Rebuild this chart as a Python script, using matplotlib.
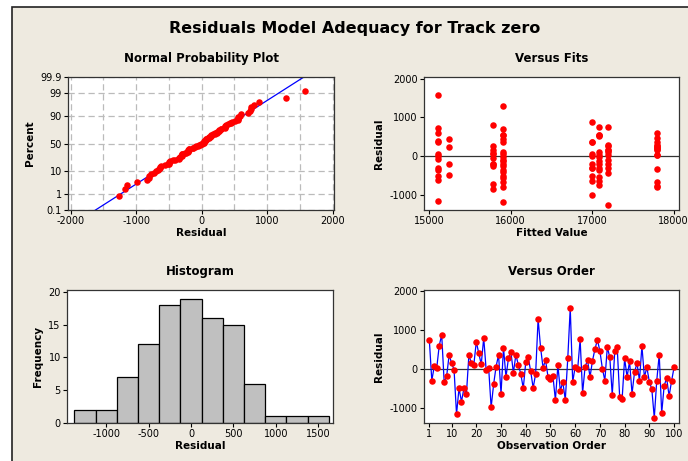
import numpy as np
import matplotlib
matplotlib.use("Agg")
import matplotlib.pyplot as plt
from matplotlib.patches import Rectangle
from statistics import NormalDist

residuals = [740, -300, 70, 30, 600, 880, -340, -190, 360, 150,
             -20, -1170, -500, -840, -500, -650, 360, 150, 110, 700,
             400, 120, 800, -40, 20, -990, -400, 60, 360, -640,
             550, -210, 270, 440, -100, 360, 110, -130, -500, 170,
             300, -60, -490, -130, 1290, 550, 30, 230, -200, -260,
             -190, -800, 90, -560, -340, -800, 270, 1570, -340, 60,
             -10, 760, -620, 50, 230, -210, 210, 510, 750, 460,
             10, -300, 560, 300, -670, 450, 560, -730, -770, 270,
             -210, 200, -640, -90, 150, -300, 590, -210, 40, -330,
             -520, -1260, -300, 370, -1140, -430, -240, -700, -310, 40]

# Valores ajustados de cada observacion
fitted = [15110, 15110, 17000, 17090, 15110, 17000, 15110, 15240, 15110, 15780,
          17090, 15910, 15110, 15780, 17000, 17800, 17800, 17200, 17200, 15910,
          15110, 15910, 15780, 15780, 17000, 17000, 15910, 15110, 17000, 17000,
          15910, 15780, 15780, 15240, 15910, 17000, 17090, 15910, 15910, 17200,
          17200, 15110, 15240, 17090, 15910, 15910, 17200, 15240, 15780, 15780,
          17090, 17800, 15780, 15910, 17090, 15910, 17200, 15110, 15910, 15910,
          15910, 17090, 15110, 15780, 17800, 15910, 17800, 17090, 17200, 17800,
          15110, 17000, 17090, 17800, 15910, 15910, 17090, 17090, 17800, 17800,
          17000, 17800, 17090, 17200, 17800, 17000, 17800, 17200, 17800, 17800,
          17090, 17200, 17090, 15910, 15110, 17200, 15910, 15780, 17200, 17800]

# Histograma: centros de clase y frecuencias
hist_centers = [-1250, -1000, -750, -500, -250, 0, 250, 500, 750, 1000, 1250, 1500]
hist_counts = [2, 2, 7, 12, 18, 19, 16, 15, 6, 1, 1, 1]

prob_ticks = [0.1, 1, 10, 50, 90, 99, 99.9]
prob_labels = ["0.1", "1", "10", "50", "90", "99", "99.9"]

plt.rcParams['font.family'] = ['DejaVu Sans']
plt.rcParams['font.size'] = 7
plt.rcParams['axes.unicode_minus'] = False

W, H = 688, 461
fig = plt.figure(figsize=(W / 100, H / 100), dpi=100, facecolor='white')
bg = '#EEEAE0'
fig.patches.append(Rectangle((12 / W, -0.01), 1.0, (H - 7) / H + 0.01,
                             transform=fig.transFigure, facecolor=bg,
                             edgecolor='#222222', linewidth=1.2, zorder=-10))

def make_ax(x0, x1, y0, y1):
    ax = fig.add_axes([x0 / W, 1 - y1 / H, (x1 - x0) / W, (y1 - y0) / H])
    ax.set_facecolor('white')
    for s in ax.spines.values():
        s.set_color('#333333')
        s.set_linewidth(0.9)
    ax.tick_params(length=3, width=0.8, pad=1.5, labelsize=7)
    return ax

fig.text(0.515, 1 - 28 / H, "Residuals Model Adequacy for Track zero",
         ha='center', va='center', fontsize=11.5, fontweight='bold')

red = '#FF0000'
nd = NormalDist()
res = np.array(residuals, dtype=float)
n = len(res)

# Normal Probability Plot
ax1 = make_ax(68, 334, 77, 210)
srt = np.sort(res)
pct = [(i + 1 - 0.3) / (n + 0.4) for i in range(n)]
zq = [nd.inv_cdf(p) for p in pct]
mu, sd = res.mean(), res.std(ddof=1)
zline = np.array([nd.inv_cdf(0.0005), nd.inv_cdf(0.9995)])
ax1.plot(mu + sd * zline, zline, color='#0000FF', lw=0.9, zorder=2)
ax1.scatter(srt, zq, s=22, color=red, zorder=3, linewidths=0)
zt = [nd.inv_cdf(p / 100) for p in prob_ticks]
ax1.set_yticks(zt)
ax1.set_yticklabels(prob_labels)
ax1.set_ylim(zt[0], zt[-1])
ax1.set_xlim(-2040, 2020)
ax1.set_xticks([-2000, -1000, 0, 1000, 2000])
ax1.set_xticks([-1500, -500, 500, 1500], minor=True)
ax1.tick_params(axis='x', which='minor', length=0)
ax1.grid(True, which='both', color='#BBBBBB', linestyle=(0, (5, 3)), linewidth=0.9)
ax1.set_axisbelow(True)
ax1.set_title("Normal Probability Plot", fontsize=8.5, fontweight='bold', pad=11)
ax1.set_xlabel("Residual", fontsize=7.5, fontweight='bold', labelpad=1)
ax1.set_ylabel("Percent", fontsize=7.5, fontweight='bold', labelpad=4)

# Versus Fits
ax2 = make_ax(424, 679, 77, 210)
ax2.axhline(0, color='#333333', lw=0.9, zorder=1)
ax2.scatter(fitted, residuals, s=22, color=red, zorder=3, linewidths=0)
ax2.set_xlim(14939, 18065)
ax2.set_ylim(-1380, 2040)
ax2.set_xticks([15000, 16000, 17000, 18000])
ax2.set_yticks([-1000, 0, 1000, 2000])
ax2.set_title("Versus Fits", fontsize=8.5, fontweight='bold', pad=11)
ax2.set_xlabel("Fitted Value", fontsize=7.5, fontweight='bold', labelpad=1)
ax2.set_ylabel("Residual", fontsize=7.5, fontweight='bold', labelpad=4)

# Histogram
ax3 = make_ax(67, 333, 290, 423)
ax3.bar(hist_centers, hist_counts, width=250, color='#C0C0C0',
        edgecolor='black', linewidth=0.9)
ax3.set_xlim(-1463, 1675)
ax3.set_ylim(0, 20.3)
ax3.set_xticks([-1000, -500, 0, 500, 1000, 1500])
ax3.set_yticks([0, 5, 10, 15, 20])
ax3.set_title("Histogram", fontsize=8.5, fontweight='bold', pad=11)
ax3.set_xlabel("Residual", fontsize=7.5, fontweight='bold', labelpad=1)
ax3.set_ylabel("Frequency", fontsize=7.5, fontweight='bold', labelpad=4)

# Versus Order
ax4 = make_ax(424, 679, 290, 423)
order = np.arange(1, n + 1)
ax4.axhline(0, color='#333333', lw=0.9, zorder=1)
ax4.plot(order, residuals, color='#0000FF', lw=0.9, zorder=2)
ax4.scatter(order, residuals, s=22, color=red, zorder=3, linewidths=0)
ax4.set_xlim(-1.16, 102)
ax4.set_ylim(-1394, 2034)
ax4.set_xticks([1, 10, 20, 30, 40, 50, 60, 70, 80, 90, 100])
ax4.set_yticks([-1000, 0, 1000, 2000])
ax4.set_title("Versus Order", fontsize=8.5, fontweight='bold', pad=11)
ax4.set_xlabel("Observation Order", fontsize=7.5, fontweight='bold', labelpad=1)
ax4.set_ylabel("Residual", fontsize=7.5, fontweight='bold', labelpad=4)

fig.savefig("out.png", dpi=100, facecolor='white')
